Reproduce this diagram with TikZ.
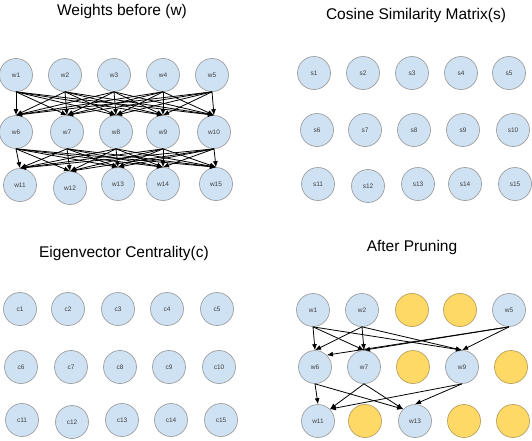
\documentclass[tikz,border=0pt]{standalone}
\usepackage{fontspec}
\setmainfont{Liberation Sans}
\usetikzlibrary{arrows.meta}
\definecolor{NodeBlue}{HTML}{CFE2F3}
\definecolor{NodeGrey}{HTML}{9E9E9E}
\definecolor{CutYellow}{HTML}{FFD966}
\definecolor{CutBorder}{HTML}{B8A060}

\begin{document}
\begin{tikzpicture}[x=1pt, y=-1pt,
    wnode/.style={circle, draw=NodeGrey, fill=NodeBlue, line width=0.7pt,
      minimum size=33pt, inner sep=0pt, text=black!75,
      font=\fontsize{6.5}{7}\selectfont},
    cutnode/.style={wnode, draw=CutBorder, fill=CutYellow},
    paneltitle/.style={font=\fontsize{15.5}{18}\selectfont},
    link/.style={-{Latex[length=6pt,width=5pt]}, line width=0.8pt}]
  \useasboundingbox (0,0) rectangle (532,440);

  % titles
  \node (titleW) [paneltitle] at (122,11) {Weights before (w)};
  \node (titleS) [paneltitle] at (416,15) {Cosine Similarity Matrix(s)};
  \node (titleC) [paneltitle] at (124,253) {Eigenvector Centrality(c)};
  \node (titleP) [paneltitle] at (412,247) {After Pruning};

  % weights before
  \foreach \i/\x/\y in {1/16/75, 2/65/75, 3/114/75, 4/163/75, 5/212/75,
      6/16/132, 7/67/132, 8/116/132, 9/163/132, 10/214/132,
      11/20/185, 12/70/188, 13/118/184, 14/163/184, 15/216/184}
    \node (w\i) [wnode] at (\x,\y) {w\i};
  \foreach \a in {1,...,5}
    \foreach \b in {6,...,10}
      \draw[link] (w\a.south) -- (w\b.north);
  \foreach \a in {6,...,10}
    \foreach \b in {11,...,15}
      \draw[link] (w\a.south) -- (w\b.north);

  % cosine similarity
  \foreach \i/\x/\y in {1/314/73, 2/363/73, 3/412/73, 4/461/73, 5/509/73,
      6/317/130, 7/365/130, 8/414/130, 9/463/130, 10/513/130,
      11/318/184, 12/368/186, 13/418/184, 14/465/184, 15/515/184}
    \node (s\i) [wnode] at (\x,\y) {s\i};

  % eigenvector centrality
  \foreach \i/\x/\y in {1/20/309, 2/68/309, 3/118/309, 4/167/309, 5/217/309,
      6/21/367, 7/71/367, 8/120/367, 9/169/367, 10/219/367,
      11/22/420, 12/72/422, 13/122/420, 14/171/420, 15/221/420}
    \node (c\i) [wnode] at (\x,\y) {c\i};

  % after pruning
  \foreach \i/\x/\y in {1/313/310, 2/362/310, 5/509/310,
      6/315/367, 7/364/367, 9/462/367,
      11/318/421, 13/415/421}
    \node (p\i) [wnode] at (\x,\y) {w\i};
  \foreach \i/\x/\y in {3/412/310, 4/460/310, 8/413/367, 10/511/367,
      12/365/421, 14/464/421, 15/513/421}
    \node (p\i) [cutnode] at (\x,\y) {};
  \foreach \a/\b/\t in {1/6/north, 1/7/north, 1/9/north,
      2/6/north, 2/7/north, 2/9/north,
      5/6/north east, 5/7/north, 5/9/north,
      6/11/north, 6/13/north west, 7/11/north east,
      7/13/north west, 9/11/north east, 9/13/north}
    \draw[link] (p\a.south) -- (p\b.\t);
\end{tikzpicture}
\end{document}
